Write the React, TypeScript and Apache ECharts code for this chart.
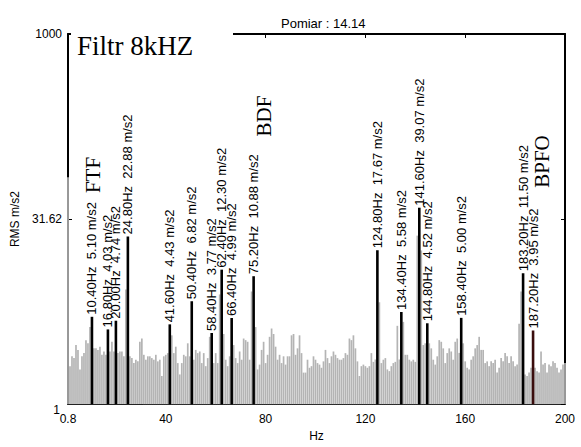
import React, { useEffect, useRef } from "react";
import * as echarts from "echarts";

// Spectrum resolution (Hz per bin); bins run 0.8 Hz ... 200 Hz
const BIN_HZ = 0.8;

// Background RMS spectrum (m/s2), one value per bin; null where a labelled peak sits
const background: (number | null)[] = [
  69, 2.03, 2.44, 2.36, 3.01, 2.75, 1.91, 2.44, 2.59, 3.3,
  3.11, 4.21, null, 2.83, 2.83, 2.75, 2.92, 2.51, 2.67, 2.51,
  null, 2.67, 3.2, 2.67, null, 2.59, 2.67, 2.67, 2.44, 8.49,
  null, 2.44, 2.36, 2.15, 2.29, 2.22, 3.2, 3.4, 2.51, 2.29,
  2.44, 2.44, 2.36, 2.29, 2.51, 2.22, 2.29, 1.69, 2.44, 2.51,
  2.59, null, 3.61, 2.59, 2.92, 2.15, 1.74, 2.15, 2.51, 2.44,
  3.11, 2.44, null, 2.29, 2.75, 2.59, 2.67, 2.15, 2.59, 2.03,
  2.36, 3.51, null, 2.15, 2.59, 2.15, 7.74, null, 3.7, 2.29,
  2.03, 2.44, null, 3.01, 2.36, 2.15, 2.67, 2.29, 3.4, 3.3,
  3.2, 2.29, 8.18, null, 4.21, 1.91, 2.09, 2.75, 3.2, 2.15,
  2.51, 3.51, 4.1, 3.7, 2.92, 2.29, 2.51, 2.15, 2.44, 2.09,
  2.44, 2.44, 3.61, 3.7, 2.51, 2.83, 3.61, 2.59, 1.8, 1.8,
  2.29, 1.97, 2.03, 2.44, 2.29, 2.15, 2.09, 1.97, 2.22, 2.75,
  2.36, 2.15, 2.44, 2.67, 2.51, 2.36, 2.29, 2.29, 2.36, 2.59,
  2.51, 3.4, 3.3, 3.61, 2.83, 2.22, 1.69, 2.03, 2.09, 2.03,
  1.97, 2.03, 2.59, 2.2, 2.3, null, 6.69, 2.15, 2.29, 2.36,
  1.91, 1.85, 2.03, 2.15, 2.2, 4.31, 2.3, null, 4.64, 2.51,
  2.51, 2.29, 2.22, 2.29, 2.2, 23.2, null, 17.6, 3.01, 3.11,
  null, 3.11, 2.83, 2.29, 2.09, 2.44, 3.3, 3.2, 2.83, 2.15,
  2.59, 2.83, 2.67, 2.29, 3.2, 3.4, 2.6, null, 3.11, 2.22,
  1.97, 1.91, 2.29, 2.44, 2.83, 3.01, 3.51, 2.75, 2.75, 2.15,
  2.22, 2.03, 2.22, 2.15, 2.29, 1.8, 1.97, 2.36, 2.22, 2.59,
  2.44, 2.15, 2.44, 2.22, 2.03, 2.09, 4.48, 8.18, null, 1.74,
  1.69, 1.8, 1.97, null, 1.97, 1.85, 1.8, 2.67, 2.09, 2.15,
  1.8, 2.09, 2.03, 2.22, 2.15, 1.97, 1.8, 1.91, 2.09, 2.15,
];

// Labelled peaks
const peakHz = [10.4, 16.8, 20.0, 24.8, 41.6, 50.4, 58.4, 62.4, 66.4, 75.2, 124.8, 134.4, 141.6, 144.8, 158.4, 183.2, 187.2];
const peakRms = [5.1, 4.03, 4.74, 22.88, 4.43, 6.82, 3.77, 12.3, 4.99, 10.88, 17.67, 5.58, 39.07, 4.52, 5.0, 11.5, 3.95];

// Axis ticks
const xTickValues = [0.8, 40, 80, 120, 160, 200];
const xTopTicks = [40, 80, 120, 160];
const yTickLabels = ["1", "31.62", "1000"];

// Annotations
const annotations = [
  { text: "FTF", x: 92.5, y: 175 },
  { text: "BDF", x: 263.5, y: 116 },
  { text: "BPFO", x: 541.5, y: 161.5 },
];

const SANS = '"Liberation Sans", Arial, sans-serif';
const SERIF = '"Liberation Serif", "Times New Roman", serif';

export default function App() {
  const ref = useRef<HTMLDivElement>(null);

  useEffect(() => {
    if (!ref.current) return;
    const chart = echarts.init(ref.current, undefined, { renderer: "svg" });

    const bgData = background
      .map((v, i) => (v == null ? null : [Number((BIN_HZ * (i + 1)).toFixed(1)), Math.log10(v)]))
      .filter((d) => d !== null);
    const peakData = peakHz.map((f, i) => ({
      value: [f, Math.log10(peakRms[i])],
      itemStyle: { color: f === 187.2 ? "#3a0d0d" : "#000" },
    }));

    const gridLeft = 68;
    const gridBottomY = 447 - 35;

    chart.setOption({
      animation: false,
      backgroundColor: "#fff",
      title: {
        text: "Pomiar : 14.14",
        left: 276,
        top: 12,
        textStyle: { fontFamily: SANS, fontSize: 13, fontWeight: "normal", color: "#000" },
      },
      grid: { left: gridLeft, right: 16, top: 34, bottom: 35 },
      xAxis: [
        {
          type: "value",
          position: "bottom",
          min: 0.8,
          max: 200,
          name: "Hz",
          nameLocation: "middle",
          nameGap: 17,
          nameTextStyle: { fontFamily: SANS, fontSize: 12, color: "#000", verticalAlign: "top" },
          axisLine: { show: true, onZero: false, lineStyle: { color: "#222", width: 1 } },
          axisTick: { show: false },
          axisLabel: { customValues: xTickValues, fontFamily: SANS, fontSize: 12, color: "#000", margin: 9 },
          splitLine: { show: false },
        },
        {
          type: "value",
          position: "top",
          min: 0.8,
          max: 200,
          axisLine: { show: true, onZero: false, lineStyle: { color: "#000", width: 2 } },
          axisTick: { show: true, inside: true, length: 4, customValues: xTopTicks, lineStyle: { color: "#000" } },
          axisLabel: { show: false },
          splitLine: { show: false },
        },
      ],
      yAxis: [
        {
          type: "value",
          min: 0,
          max: 3,
          interval: 1.5,
          name: "RMS m/s2",
          nameLocation: "middle",
          nameGap: 42,
          nameTextStyle: { fontFamily: SANS, fontSize: 12, color: "#000" },
          axisLine: { show: true, onZero: false, lineStyle: { color: "#000", width: 2 } },
          axisTick: { show: true, inside: true, length: 4, lineStyle: { color: "#000" } },
          axisLabel: {
            fontFamily: SANS,
            fontSize: 12,
            color: "#000",
            margin: 6,
            showMinLabel: false,
            formatter: (v: number) => yTickLabels[Math.round(v / 1.5)] ?? "",
          },
          splitLine: { show: false },
        },
        {
          type: "value",
          position: "right",
          min: 0,
          max: 3,
          interval: 1.5,
          axisLine: { show: true, onZero: false, lineStyle: { color: "#000", width: 2 } },
          axisTick: { show: true, inside: true, length: 4, lineStyle: { color: "#000" } },
          axisLabel: { show: false },
          splitLine: { show: false },
        },
      ],
      series: [
        {
          type: "bar",
          name: "background",
          xAxisIndex: 0,
          yAxisIndex: 0,
          data: bgData,
          barWidth: 1.7,
          itemStyle: { color: "#b4b4b4" },
          clip: false,
          z: 2,
        },
        {
          type: "bar",
          name: "peaks",
          xAxisIndex: 1,
          yAxisIndex: 0,
          data: peakData,
          barWidth: 2.6,
          clip: false,
          z: 3,
          label: {
            show: true,
            position: "top",
            rotate: 90,
            align: "left",
            verticalAlign: "middle",
            distance: 2,
            fontFamily: SANS,
            fontSize: 13,
            color: "#000",
            formatter: (p: any) =>
              peakHz[p.dataIndex].toFixed(2) + "Hz  " + peakRms[p.dataIndex].toFixed(2) + " m/s2",
          },
        },
      ],
      graphic: [
        {
          type: "rect",
          z: 100,
          shape: { x: 71, y: 28, width: 162, height: 12 },
          style: { fill: "#fff" },
        },
        {
          type: "text",
          z: 101,
          x: 77,
          y: 32,
          style: { text: "Filtr 8kHZ", font: `27px ${SERIF}`, fill: "#000", verticalAlign: "top" },
        },
        {
          type: "text",
          z: 101,
          x: gridLeft - 8,
          y: gridBottomY - 2,
          style: { text: yTickLabels[0], font: `12px ${SANS}`, fill: "#000", align: "right", verticalAlign: "middle" },
        },
        ...annotations.map((a) => ({
          type: "text",
          z: 101,
          x: a.x,
          y: a.y,
          rotation: Math.PI / 2,
          style: { text: a.text, font: `21px ${SERIF}`, fill: "#000", align: "center", verticalAlign: "middle" },
        })),
      ],
    });

    return () => chart.dispose();
  }, []);

  return <div ref={ref} style={{ position: "fixed", left: 0, top: 0, width: 581, height: 447 }} />;
}
